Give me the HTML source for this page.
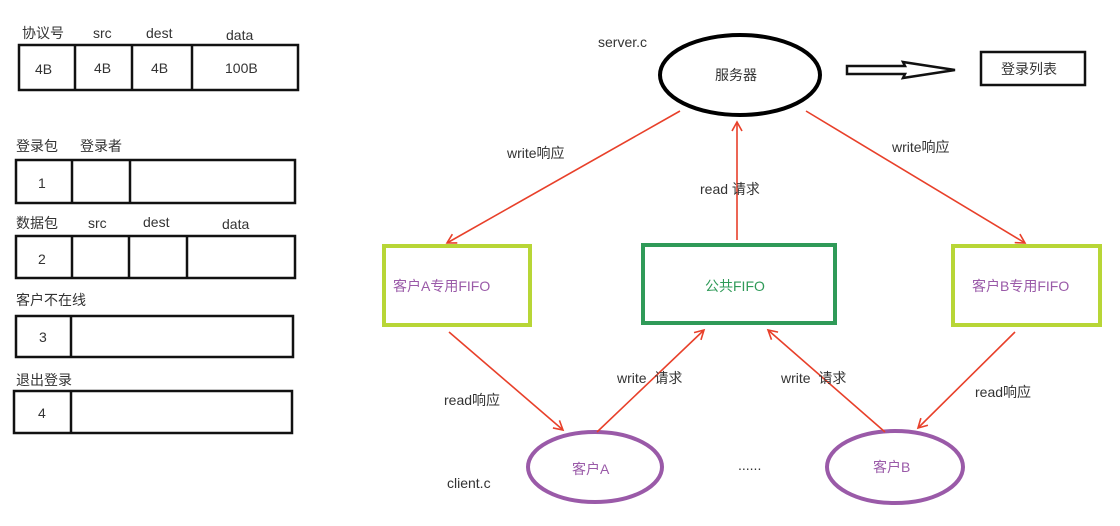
<!DOCTYPE html>
<html><head><meta charset="utf-8"><style>
html,body{margin:0;padding:0;background:#fff;}
svg{display:block;}
text{font-family:"Liberation Sans","Noto Sans CJK SC",sans-serif;font-size:14px;fill:#333;}
</style></head><body>
<svg width="1120" height="526" viewBox="0 0 1120 526" xmlns="http://www.w3.org/2000/svg">
<defs>
<marker id="ah" markerWidth="12" markerHeight="12" refX="10" refY="6" orient="auto" markerUnits="userSpaceOnUse">
<path d="M1,1 L10,6 L1,11" fill="none" stroke="#e8402a" stroke-width="1.6"/>
</marker>
</defs>
<g fill="none" stroke="#111" stroke-width="2.5">
<rect x="19" y="45" width="279" height="45"/>
<line x1="75" y1="45" x2="75" y2="90"/><line x1="132" y1="45" x2="132" y2="90"/><line x1="192" y1="45" x2="192" y2="90"/>
<rect x="16" y="160" width="279" height="43"/>
<line x1="72" y1="160" x2="72" y2="203"/><line x1="130" y1="160" x2="130" y2="203"/>
<rect x="16" y="236" width="279" height="42"/>
<line x1="72" y1="236" x2="72" y2="278"/><line x1="129" y1="236" x2="129" y2="278"/><line x1="187" y1="236" x2="187" y2="278"/>
<rect x="16" y="316" width="277" height="41"/>
<line x1="71" y1="316" x2="71" y2="357"/>
<rect x="14" y="391" width="278" height="42"/>
<line x1="71" y1="391" x2="71" y2="433"/>
</g>
<g font-size="14">
<text x="22" y="38">协议号</text><text x="93" y="38">src</text><text x="146" y="38">dest</text><text x="226" y="40">data</text>
<text x="35" y="74">4B</text><text x="94" y="73">4B</text><text x="151" y="73">4B</text><text x="225" y="73">100B</text>
<text x="16" y="151">登录包</text><text x="80" y="151">登录者</text>
<text x="38" y="188">1</text>
<text x="16" y="228">数据包</text><text x="88" y="228">src</text><text x="143" y="227">dest</text><text x="222" y="229">data</text>
<text x="38" y="264">2</text>
<text x="16" y="305">客户不在线</text>
<text x="39" y="342">3</text>
<text x="16" y="385">退出登录</text>
<text x="38" y="418">4</text>
</g>
<text x="598" y="47">server.c</text>
<ellipse cx="740" cy="75" rx="80" ry="40" fill="none" stroke="#000" stroke-width="4"/>
<text x="715" y="80">服务器</text>
<path d="M847,66 L905,66 L903,62 L955,70 L903,78 L905,74 L847,74 Z" fill="#fff" stroke="#111" stroke-width="2.5"/>
<rect x="981" y="52" width="104" height="33" fill="none" stroke="#111" stroke-width="2.5"/>
<text x="1001" y="74">登录列表</text>
<rect x="384" y="246" width="146" height="79" fill="none" stroke="#b8d636" stroke-width="4"/>
<text x="393" y="291" style="fill:#9a5aa8">客户A专用FIFO</text>
<rect x="643" y="245" width="192" height="78" fill="none" stroke="#2f9a58" stroke-width="4"/>
<text x="705" y="291" style="fill:#2f9a58">公共FIFO</text>
<rect x="953" y="246" width="147" height="79" fill="none" stroke="#b8d636" stroke-width="4"/>
<text x="972" y="291" style="fill:#9a5aa8">客户B专用FIFO</text>
<ellipse cx="595" cy="467" rx="67" ry="35" fill="none" stroke="#9a5aa8" stroke-width="4"/>
<text x="572" y="474" style="fill:#9a5aa8">客户A</text>
<ellipse cx="895" cy="467" rx="68" ry="36" fill="none" stroke="#9a5aa8" stroke-width="4"/>
<text x="873" y="472" style="fill:#9a5aa8">客户B</text>
<text x="738" y="470" font-size="12">......</text>
<text x="447" y="488">client.c</text>
<g stroke="#e8402a" stroke-width="1.6" marker-end="url(#ah)">
<line x1="680" y1="111" x2="447" y2="243"/>
<line x1="737" y1="240" x2="737" y2="122"/>
<line x1="806" y1="111" x2="1025" y2="243"/>
<line x1="449" y1="332" x2="563" y2="430"/>
<line x1="597" y1="432" x2="704" y2="330"/>
<line x1="885" y1="432" x2="768" y2="330"/>
<line x1="1015" y1="332" x2="918" y2="428"/>
</g>
<text x="507" y="158">write响应</text>
<text x="700" y="194">read 请求</text>
<text x="892" y="152">write响应</text>
<text x="444" y="405">read响应</text>
<text x="617" y="383">write&#160;&#160;请求</text>
<text x="781" y="383">write&#160;&#160;请求</text>
<text x="975" y="397">read响应</text>
</svg>
</body></html>
